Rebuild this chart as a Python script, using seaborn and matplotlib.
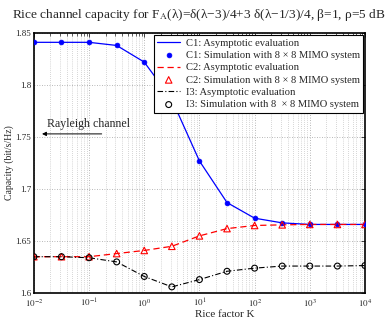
import numpy as np
import pandas as pd
import matplotlib
matplotlib.use("Agg")
import matplotlib.pyplot as plt
import seaborn as sns
from matplotlib.ticker import LogLocator, NullFormatter, FixedLocator

# ---- data ----
log_k = [-2, -1.5, -1, -0.5, 0, 0.5, 1, 1.5, 2, 2.5, 3, 3.5, 4]
c1 = [1.841, 1.841, 1.841, 1.838, 1.822, 1.786, 1.727, 1.687, 1.672, 1.6675, 1.666, 1.666, 1.666]
c2 = [1.635, 1.635, 1.635, 1.638, 1.641, 1.645, 1.655, 1.662, 1.665, 1.6656, 1.666, 1.666, 1.666]
i3 = [1.635, 1.635, 1.634, 1.630, 1.616, 1.606, 1.613, 1.621, 1.624, 1.626, 1.626, 1.626, 1.6265]
x_ticks = [1e-2, 1e-1, 1e0, 1e1, 1e2, 1e3, 1e4]
x_tick_labels = ["$10^{-2}$", "$10^{-1}$", "$10^{0}$", "$10^{1}$", "$10^{2}$", "$10^{3}$", "$10^{4}$"]
y_ticks = [1.6, 1.65, 1.7, 1.75, 1.8, 1.85]
y_tick_labels = ["1.6", "1.65", "1.7", "1.75", "1.8", "1.85"]

K = [10 ** v for v in log_k]
df = pd.DataFrame({"K": K, "C1": c1, "C2": c2, "I3": i3})

sns.set_style("white")
plt.rcParams["font.family"] = ["Liberation Serif", "DejaVu Serif"]
plt.rcParams["mathtext.fontset"] = "stix"

fig = plt.figure(figsize=(3.85, 3.2), dpi=100)
ax = fig.add_axes([0.088, 0.084, 0.86, 0.813])

sns.lineplot(data=df, x="K", y="C1", ax=ax, color="#0000ff", lw=0.9,
             label="C1: Asymptotic evaluation")
sns.scatterplot(data=df, x="K", y="C1", ax=ax, color="#0000ff", marker="o",
                s=12, edgecolor="#0000ff", linewidth=0.5,
                label="C1: Simulation with 8 \u00d7 8 MIMO system", zorder=5)
sns.lineplot(data=df, x="K", y="C2", ax=ax, color="#ff0000", lw=0.9,
             label="C2: Asymptotic evaluation")
sns.scatterplot(data=df, x="K", y="C2", ax=ax, marker="^", s=22,
                facecolor="none", edgecolor="#ff0000", linewidth=0.8,
                label="C2: Simulation with 8 \u00d7 8 MIMO system", zorder=5)
sns.lineplot(data=df, x="K", y="I3", ax=ax, color="black", lw=0.8,
             label="I3: Asymptotic evaluation")
sns.scatterplot(data=df, x="K", y="I3", ax=ax, marker="o", s=18,
                facecolor="none", edgecolor="black", linewidth=0.8,
                label="I3: Simulation with 8  \u00d7 8 MIMO system", zorder=5)

lines = ax.get_lines()
lines[1].set_dashes([5, 3])
lines[2].set_dashes([5, 2, 1, 2])

ax.set_xscale("log")
ax.set_xlim(1e-2, 1e4)
ax.set_ylim(1.6, 1.85)
ax.set_yticks(y_ticks)
ax.set_yticklabels(y_tick_labels)
ax.xaxis.set_major_locator(FixedLocator(x_ticks))
ax.set_xticklabels(x_tick_labels)
ax.xaxis.set_minor_locator(LogLocator(base=10, subs=np.arange(2, 10), numticks=100))
ax.xaxis.set_minor_formatter(NullFormatter())

ax.grid(True, which="major", color="#a0a0a0", linestyle=(0, (1, 2)), lw=0.6)
ax.grid(True, which="minor", axis="x", color="#b0b0b0", linestyle=(0, (1, 2)), lw=0.5)
ax.tick_params(which="both", direction="in", top=True, right=True, labelsize=6.5,
               pad=2)
ax.tick_params(axis="x", which="major", pad=3)
ax.tick_params(which="major", length=3, width=0.6)
ax.tick_params(which="minor", length=1.8, width=0.5)
for sp in ax.spines.values():
    sp.set_linewidth(1.2)
    sp.set_color("black")

ax.set_xlabel("Rice factor K", fontsize=8)
ax.xaxis.set_label_coords(0.575, -0.064, transform=ax.transAxes)
ax.xaxis.label.set_va("top")
ax.set_ylabel("Capacity (bit/s/Hz)", fontsize=7, labelpad=1)

title = ("Rice channel capacity for F$_{\\mathrm{A}}$(\u03bb)=\u03b4(\u03bb\u22123)/4+3 "
         "\u03b4(\u03bb\u22121/3)/4, \u03b2=1, \u03c1=5 dB")
fig.text(0.516, 0.953, title, ha="center", va="center", fontsize=9.6)

ax.annotate("", xy=(0.0125, 1.753), xytext=(0.19, 1.753),
            arrowprops=dict(arrowstyle="-|>", color="black", lw=0.7,
                            mutation_scale=6))
ax.text(0.017, 1.757, "Rayleigh channel", fontsize=8.6, ha="left", va="bottom")

leg = ax.legend(loc="upper right", fontsize=7.6, frameon=True, fancybox=False,
                edgecolor="black", framealpha=1, borderpad=0.3,
                labelspacing=0.28, handlelength=2.2, handletextpad=0.5,
                borderaxespad=0.2)
leg.get_frame().set_linewidth(0.8)

fig.savefig("out.png", dpi=100)
